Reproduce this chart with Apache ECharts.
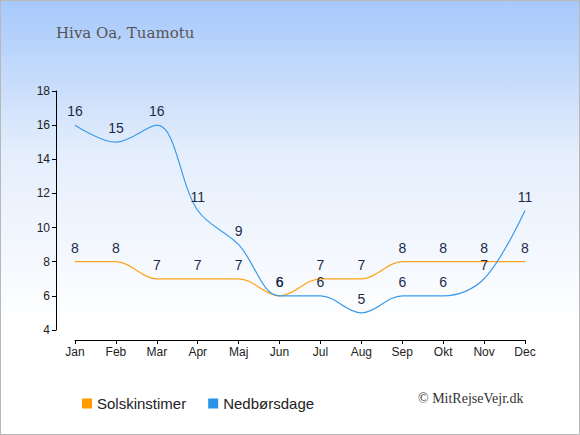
<!DOCTYPE html>
<html>
<head>
<meta charset="utf-8">
<script src="https://cdn.jsdelivr.net/npm/echarts@6/dist/echarts.min.js"></script>
<style>
  html, body { margin: 0; padding: 0; }
  body {
    width: 580px;
    height: 435px;
    box-sizing: border-box;
    border: 1px solid #b8b8b8;
    background: linear-gradient(to bottom, #a6c8fb 0%, #e4eefc 35%, #ffffff 75%, #ffffff 100%);
    overflow: hidden;
  }
  #chart { width: 578px; height: 433px; }
</style>
</head>
<body>
<div id="chart"></div>
<script>
  const months = ["Jan", "Feb", "Mar", "Apr", "Maj", "Jun", "Jul", "Aug", "Sep", "Okt", "Nov", "Dec"];
  const sunHours = [8, 8, 7, 7, 7, 6, 7, 7, 8, 8, 8, 8];
  const rainDays = [16, 15, 16, 11, 9, 6, 6, 5, 6, 6, 7, 11];

  const orange = "#ffa31a";
  const blue = "#3d9be9";
  const labelColor = "#1c2a4a";
  const sans = "Liberation Sans, Arial, sans-serif";

  const chart = echarts.init(document.getElementById("chart"), null, { renderer: "svg" });

  function lineSeries(name, data, color) {
    return {
      name,
      type: "line",
      data,
      smooth: 0.35,
      symbol: "circle",
      symbolSize: 2,
      showSymbol: true,
      showAllSymbol: true,
      lineStyle: { color, width: 1.2 },
      itemStyle: { color: "rgba(0,0,0,0)" },
      label: {
        show: true,
        position: "top",
        distance: 6,
        color: labelColor,
        fontSize: 14,
        fontFamily: sans
      }
    };
  }

  chart.setOption({
    animation: false,
    title: {
      text: "Hiva Oa, Tuamotu",
      left: 50,
      top: 19,
      textStyle: {
        color: "#555555",
        fontSize: 15,
        fontWeight: "normal",
        fontFamily: "DejaVu Serif, Liberation Serif, serif"
      }
    },
    graphic: [
      {
        type: "text",
        left: 417,
        top: 390,
        style: {
          text: "© MitRejseVejr.dk",
          fill: "#333333",
          fontSize: 14,
          fontFamily: "Liberation Serif, serif"
        }
      }
    ],
    legend: {
      left: 76,
      top: 390,
      icon: "rect",
      itemWidth: 10,
      itemHeight: 10,
      itemGap: 22,
      textStyle: {
        color: "#222222",
        fontSize: 15,
        fontFamily: sans
      },
      data: [
        { name: "Solskinstimer", itemStyle: { color: "#ff9a00" } },
        { name: "Nedbørsdage", itemStyle: { color: "#2b93e6" } }
      ]
    },
    grid: { left: 74, right: 54, top: 90, bottom: 104 },
    xAxis: {
      type: "category",
      data: months,
      boundaryGap: false,
      offset: 10,
      axisLine: { lineStyle: { color: "#000000", width: 1 } },
      axisTick: { alignWithLabel: true, length: 4, lineStyle: { color: "#000000" } },
      axisLabel: {
        color: "#222222",
        fontSize: 12,
        margin: 6,
        fontFamily: sans
      },
      splitLine: { show: false }
    },
    yAxis: {
      type: "value",
      min: 4,
      max: 18,
      interval: 2,
      offset: 19,
      axisLine: { show: true, lineStyle: { color: "#000000", width: 1 } },
      axisTick: { show: true, length: 4, lineStyle: { color: "#000000" } },
      axisLabel: {
        color: "#222222",
        fontSize: 12,
        margin: 6,
        fontFamily: sans
      },
      splitLine: { show: false }
    },
    series: [
      lineSeries("Solskinstimer", sunHours, orange),
      lineSeries("Nedbørsdage", rainDays, blue)
    ]
  });
</script>
</body>
</html>
